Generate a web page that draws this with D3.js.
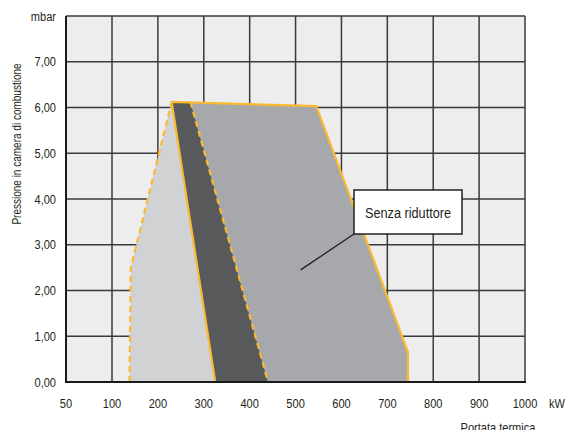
<!DOCTYPE html>
<html>
<head>
<meta charset="utf-8">
<script src="https://cdn.jsdelivr.net/npm/d3@7"></script>
<style>
  body { margin: 0; background: #fff; }
  text { font-family: "Liberation Sans", Arial, sans-serif; fill: #231f20; }
</style>
</head>
<body>
<div id="chart"></div>
<script>
// tick labels
var xTicks = [50, 100, 200, 300, 400, 500, 600, 700, 800, 900, 1000];
var yTicks = [0, 1, 2, 3, 4, 5, 6, 7, 8];

// working fields [kW, mbar]
var lightArea = [[138, 0], [141, 2.5], [230, 6.12], [325, 0]];
var darkArea = [[230, 6.12], [271, 6.12], [440, 0], [325, 0]];
var midArea = [[271, 6.12], [545, 6.03], [745, 0.65], [745, 0], [440, 0]];

// outlines
var solidEdge = [[325, 0], [230, 6.12], [545, 6.03], [745, 0.65], [745, 0]];
var dashEdgeLeft = [[138, 0], [141, 2.5], [230, 6.12]];
var dashEdgeRight = [[271, 6.12], [440, 0]];

var noteLabel = "Senza riduttore";
var notePoint = [511, 2.45];

var width = 567, height = 430;
var margin = { top: 16, right: 42, bottom: 48, left: 66 };

var svg = d3.select("#chart")
    .append("svg")
    .attr("width", width)
    .attr("height", height);

// axis is not linear: 50 sits one step left of 100
var x = d3.scaleLinear()
    .domain([50, 100, 1000])
    .range([margin.left, margin.left + 46, width - margin.right]);

var y = d3.scaleLinear()
    .domain([0, 8])
    .range([height - margin.bottom, margin.top]);

// condensed look: squeeze Liberation Sans horizontally
function label(px, py, str, size, anchor, rot, sx) {
    return svg.append("text")
        .attr("transform", "translate(" + px + "," + py + ")" + (rot ? " rotate(" + rot + ")" : "") + " scale(" + (sx || 0.85) + ",1)")
        .attr("text-anchor", anchor)
        .style("font-size", size + "px")
        .text(str);
}

// background
svg.append("rect")
    .attr("x", x(50))
    .attr("y", y(8))
    .attr("width", x(1000) - x(50))
    .attr("height", y(0) - y(8))
    .attr("fill", "#ededed");

// grid
svg.selectAll("vgrid")
    .data(xTicks.slice(1))
    .enter()
    .append("line")
    .attr("x1", d => x(d)).attr("x2", d => x(d))
    .attr("y1", y(0)).attr("y2", y(8))
    .attr("stroke", "#3a3a3a")
    .attr("stroke-width", 1.5);

svg.selectAll("hgrid")
    .data(yTicks.slice(1))
    .enter()
    .append("line")
    .attr("x1", x(50)).attr("x2", x(1000))
    .attr("y1", d => y(d)).attr("y2", d => y(d))
    .attr("stroke", "#3a3a3a")
    .attr("stroke-width", 1.5);

var line = d3.line()
    .x(d => x(d[0]))
    .y(d => y(d[1]));

// areas
svg.append("path").attr("d", line(lightArea) + "Z").attr("fill", "#d1d2d4");
svg.append("path").attr("d", line(midArea) + "Z").attr("fill", "#a7a8ab");
svg.append("path").attr("d", line(darkArea) + "Z").attr("fill", "#58595b");

// outlines
svg.append("path").attr("d", line(solidEdge))
    .attr("fill", "none").attr("stroke", "#fbb931").attr("stroke-width", 2.2)
    .attr("stroke-linejoin", "miter");
[dashEdgeLeft, dashEdgeRight].forEach(function (p) {
    svg.append("path").attr("d", line(p))
        .attr("fill", "none").attr("stroke", "#fbb931").attr("stroke-width", 2.2)
        .attr("stroke-dasharray", "6,4");
});

// frame
svg.append("line")
    .attr("x1", x(50)).attr("x2", x(50))
    .attr("y1", y(8)).attr("y2", y(0))
    .attr("stroke", "#1a1a1a").attr("stroke-width", 2);
svg.append("line")
    .attr("x1", x(50) - 1).attr("x2", x(1000) + 1)
    .attr("y1", y(0)).attr("y2", y(0))
    .attr("stroke", "#1a1a1a").attr("stroke-width", 2.2);

// y tick labels
yTicks.slice(0, -1).forEach(function (d) {
    label(x(50) - 10, y(d) + 4.5, d3.format(".2f")(d).replace(".", ","), 13, "end");
});
label(x(50) - 10, y(8) + 4.5, "mbar", 13, "end");

// x tick labels
xTicks.forEach(function (d) {
    label(x(d), y(0) + 26, d, 13, "middle");
});
label(x(1000) + 32, y(0) + 26, "kW", 13, "middle");
label(498, 432, "Portata termica", 13, "middle");
label(21, 144, "Pressione in camera di combustione", 13, "middle", -90, 0.77);

// annotation
var bx = 354, by = 190, bw = 108, bh = 44;
svg.append("line")
    .attr("x1", x(notePoint[0])).attr("y1", y(notePoint[1]))
    .attr("x2", bx).attr("y2", by + bh)
    .attr("stroke", "#231f20").attr("stroke-width", 1.3);
svg.append("rect")
    .attr("x", bx).attr("y", by)
    .attr("width", bw).attr("height", bh)
    .attr("fill", "#fff")
    .attr("stroke", "#231f20").attr("stroke-width", 1.5);
label(bx + bw / 2, by + bh / 2 + 5.5, noteLabel, 15.5, "middle", 0, 0.82);
</script>
</body>
</html>
